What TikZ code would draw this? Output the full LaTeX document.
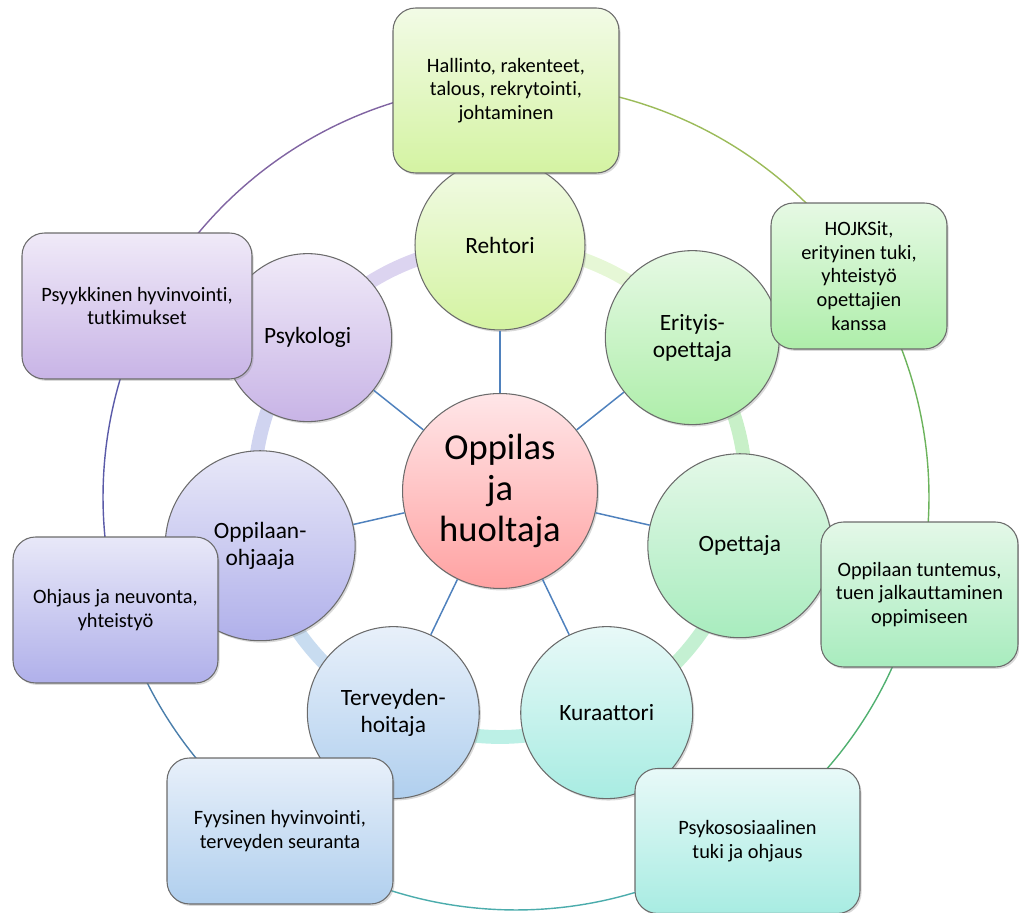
\documentclass[tikz,border=0pt]{standalone}
\usepackage{fontspec}
\setmainfont{Carlito}[Ligatures={NoCommon}]
\usetikzlibrary{shadows}
\definecolor{limeT}{HTML}{F2FBE6}\definecolor{limeB}{HTML}{D4F3A2}
\definecolor{grnT}{HTML}{E6F9E4}\definecolor{grnB}{HTML}{AEEEAA}
\definecolor{mntT}{HTML}{E4F8E8}\definecolor{mntB}{HTML}{A8ECBE}
\definecolor{tealT}{HTML}{E8F9F8}\definecolor{tealB}{HTML}{A8ECE2}
\definecolor{bluT}{HTML}{E8F0FA}\definecolor{bluB}{HTML}{B0CFEE}
\definecolor{lavT}{HTML}{E8E8F8}\definecolor{lavB}{HTML}{B0B0EA}
\definecolor{purT}{HTML}{F0EAF8}\definecolor{purB}{HTML}{C8B4E6}
\definecolor{pinkT}{HTML}{FFE6E8}\definecolor{pinkB}{HTML}{FFA2A2}
\definecolor{edge}{HTML}{6B6B6B}
\definecolor{spoke}{HTML}{4F81BD}
\definecolor{ringA}{HTML}{E6F7D6}\definecolor{ringB}{HTML}{C8F0C8}
\definecolor{ringC}{HTML}{C4F0D2}\definecolor{ringD}{HTML}{BCF0E6}
\definecolor{ringE}{HTML}{C8DCF0}\definecolor{ringF}{HTML}{D0D4F0}
\definecolor{ringG}{HTML}{DCD4F0}
\definecolor{arcA}{HTML}{9BBB59}\definecolor{arcB}{HTML}{6CB35C}
\definecolor{arcC}{HTML}{50B070}\definecolor{arcD}{HTML}{4BACAC}
\definecolor{arcE}{HTML}{4A7EAB}\definecolor{arcF}{HTML}{5A5AA8}
\definecolor{arcG}{HTML}{8064A2}
\begin{document}
\begin{tikzpicture}[x=0.02cm,y=0.02cm,
  shp/.style={draw=edge, line width=0.6pt,
    drop shadow={shadow xshift=0.9pt, shadow yshift=-1.1pt, opacity=0.3}},
  circ/.style={shp, circle, inner sep=0pt, align=center,
    font=\fontsize{13.3}{15.5}\selectfont},
  bx/.style={shp, rectangle, rounded corners=0.45cm, inner sep=2pt, align=center,
    font=\fontsize{11.6}{13.5}\selectfont},
  spk/.style={draw=spoke, line width=0.85pt},
  rng/.style={line width=7.9pt},
  oarc/.style={line width=0.8pt}]
\useasboundingbox (0,0) rectangle (1019,913);
% centres
\coordinate (O) at (500,422);
\coordinate (C) at (516,416);
\coordinate (p1) at ([shift={(90:246)}]O);
\coordinate (p2) at ([shift={(38.57:246)}]O);
\coordinate (p3) at ([shift={(-12.86:246)}]O);
\coordinate (p4) at ([shift={(-64.29:246)}]O);
\coordinate (p5) at ([shift={(-115.71:246)}]O);
\coordinate (p6) at ([shift={(-167.14:246)}]O);
\coordinate (p7) at ([shift={(141.43:246)}]O);
% thick ring
\draw[rng, ringA] (p1) arc[start angle=90, end angle=38.57, radius=246];
\draw[rng, ringB] (p2) arc[start angle=38.57, end angle=-12.86, radius=246];
\draw[rng, ringC] (p3) arc[start angle=-12.86, end angle=-64.29, radius=246];
\draw[rng, ringD] (p4) arc[start angle=-64.29, end angle=-115.71, radius=246];
\draw[rng, ringE] (p5) arc[start angle=-115.71, end angle=-167.14, radius=246];
\draw[rng, ringF] (p6) arc[start angle=-167.14, end angle=-218.57, radius=246];
\draw[rng, ringG] (p7) arc[start angle=141.43, end angle=90, radius=246];
% circles
\node[circ, minimum size=3.9cm, top color=pinkT, bottom color=pinkB,
  font=\fontsize{20.8}{23.5}\selectfont] (c) at (O) {Oppilas\\ja\\huoltaja};
\node[circ, minimum size=3.4cm, top color=limeT, bottom color=limeB] (r1) at (p1) {Rehtori};
\node[circ, minimum size=3.48cm, top color=grnT, bottom color=grnB] (r2) at (p2) {Erityis-\\opettaja};
\node[circ, minimum size=3.68cm, top color=mntT, bottom color=mntB] (r3) at (p3) {Opettaja};
\node[circ, minimum size=3.44cm, top color=tealT, bottom color=tealB] (r4) at (p4) {Kuraattori};
\node[circ, minimum size=3.44cm, top color=bluT, bottom color=bluB] (r5) at (p5) {Terveyden-\\hoitaja};
\node[circ, minimum size=3.8cm, top color=lavT, bottom color=lavB] (r6) at (p6) {Oppilaan-\\ohjaaja};
\node[circ, minimum size=3.36cm, top color=purT, bottom color=purB] (r7) at (p7) {Psykologi};
% spokes
\foreach \i in {1,...,7} \draw[spk] (c) -- (r\i);
% outer thin arcs (between box centres)
\coordinate (q1) at ([shift={(91.4:413)}]C);
\coordinate (q2) at ([shift={(32.8:413)}]C);
\coordinate (q3) at ([shift={(-13.6:413)}]C);
\coordinate (q4) at ([shift={(-55.9:413)}]C);
\coordinate (q5) at ([shift={(-125.2:413)}]C);
\coordinate (q6) at ([shift={(-164.2:413)}]C);
\coordinate (q7) at ([shift={(153.3:413)}]C);
\draw[oarc, arcA] (q1) arc[start angle=91.4, end angle=32.8, radius=413];
\draw[oarc, arcB] (q2) arc[start angle=32.8, end angle=-13.6, radius=413];
\draw[oarc, arcC] (q3) arc[start angle=-13.6, end angle=-55.9, radius=413];
\draw[oarc, arcD] (q4) arc[start angle=-55.9, end angle=-125.2, radius=413];
\draw[oarc, arcE] (q5) arc[start angle=-125.2, end angle=-164.2, radius=413];
\draw[oarc, arcF] (q6) arc[start angle=-164.2, end angle=-206.7, radius=413];
\draw[oarc, arcG] (q7) arc[start angle=153.3, end angle=91.4, radius=413];
% boxes
\node[bx, minimum width=4.52cm, minimum height=3.3cm, top color=limeT, bottom color=limeB] (b1) at (506,822.5)
  {Hallinto, rakenteet,\\talous, rekrytointi,\\johtaminen};
\node[bx, minimum width=3.52cm, minimum height=2.92cm, top color=grnT, bottom color=grnB] (b2) at (859,637)
  {HOJKSit,\\erityinen tuki,\\yhteistyö\\opettajien\\kanssa};
\node[bx, minimum width=3.94cm, minimum height=2.9cm, top color=mntT, bottom color=mntB] (b3) at (919.5,318.5)
  {Oppilaan tuntemus,\\tuen jalkauttaminen\\oppimiseen};
\node[bx, minimum width=4.5cm, minimum height=2.9cm, top color=tealT, bottom color=tealB] (b4) at (747.5,72)
  {Psykososiaalinen\\tuki ja ohjaus};
\node[bx, minimum width=4.52cm, minimum height=2.92cm, top color=bluT, bottom color=bluB] (b5) at (280,82)
  {Fyysinen hyvinvointi,\\terveyden seuranta};
\node[bx, minimum width=4.1cm, minimum height=2.92cm, top color=lavT, bottom color=lavB] (b6) at (115.5,303)
  {Ohjaus ja neuvonta,\\yhteistyö};
\node[bx, minimum width=4.6cm, minimum height=2.92cm, top color=purT, bottom color=purB] (b7) at (137,607)
  {Psyykkinen hyvinvointi,\\tutkimukset};
\end{tikzpicture}
\end{document}
